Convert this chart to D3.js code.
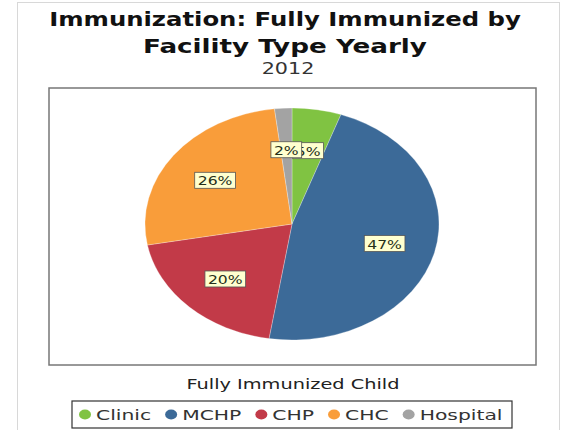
<!DOCTYPE html>
<html><head><meta charset="utf-8">
<script src="https://cdn.jsdelivr.net/npm/d3@7"></script>
<style>body{margin:0;background:#fff}svg{display:block}</style>
</head><body>
<svg id="c" width="565" height="430"></svg>
<script>
const categories = ["Clinic", "MCHP", "CHP", "CHC", "Hospital"];
const values = [5.4, 47.1, 19.6, 26.0, 1.9];
const colors = ["#80c342", "#3c6a98", "#c23a48", "#f99d3a", "#a3a3a3"];
const titleLines = ["Immunization: Fully Immunized by", "Facility Type Yearly"];
const subtitle = "2012";
const plotTitle = "Fully Immunized Child";

const svg = d3.select("#c");
const font = "DejaVu Sans, sans-serif";
const titleStretch = [1.28, 1.38];

// stretch text horizontally by factor k (reference text is wide)
function stretch(sel, k) {
  sel.each(function (d, i) {
    const L = this.getComputedTextLength();
    const kk = typeof k === "function" ? k(d, i) : k;
    d3.select(this).attr("textLength", L * kk).attr("lengthAdjust", "spacingAndGlyphs");
  });
  return sel;
}

// outer frame
svg.append("rect").attr("x", 17.5).attr("y", 2.5).attr("width", 542).attr("height", 440)
  .attr("fill", "none").attr("stroke", "#d8d8d8");

// titles
stretch(svg.selectAll("text.title").data(titleLines).join("text")
  .attr("x", 285).attr("y", (d, i) => 26 + i * 27)
  .attr("text-anchor", "middle").attr("font-family", font)
  .attr("font-weight", "bold").attr("font-size", 19).attr("fill", "#111")
  .text(d => d), (d, i) => titleStretch[i]);
stretch(svg.append("text").attr("x", 288).attr("y", 74).attr("text-anchor", "middle")
  .attr("font-family", font).attr("font-size", 15).attr("fill", "#333").text(subtitle), 1.38);

// plot box
svg.append("rect").attr("x", 49).attr("y", 88).attr("width", 487).attr("height", 277)
  .attr("fill", "#fff").attr("stroke", "#777").attr("stroke-width", 1.5);

// pie
const cx = 292, cy = 225, rx = 147, ry = 116;
const total = d3.sum(values);
const pie = d3.pie().sort(null).value(d => d)(values);
const arc = d3.arc().innerRadius(0).outerRadius(rx);
const g = svg.append("g").attr("transform", `translate(${cx},${cy - 1}) scale(1,${ry / rx})`);
g.selectAll("path").data(pie).join("path")
  .attr("d", arc).attr("fill", (d, i) => colors[i])
  .attr("stroke", "#fff").attr("stroke-width", 0.6).attr("stroke-opacity", 0.5);

// labels
const lf = 0.65;
const lab = svg.append("g");
pie.forEach((d, i) => {
  const a = (d.startAngle + d.endAngle) / 2;
  const x = cx + rx * lf * Math.sin(a);
  const y = cy - ry * lf * Math.cos(a);
  const t = Math.round(values[i] / total * 100) + "%";
  const r = lab.append("rect");
  const tx = lab.append("text").attr("x", x).attr("y", y + 5).attr("text-anchor", "middle")
    .attr("font-family", font).attr("font-size", 13).attr("font-weight", 500)
    .attr("fill", "#26301a").text(t);
  const L = tx.node().getComputedTextLength() * 1.2;
  tx.attr("textLength", L).attr("lengthAdjust", "spacingAndGlyphs");
  const w = L + 6, h = 16;
  r.attr("x", x - w / 2).attr("y", y - h / 2).attr("width", w).attr("height", h)
    .attr("fill", "#ffffcf").attr("stroke", "#555").attr("stroke-width", 0.8);
});

// plot subtitle
stretch(svg.append("text").attr("x", 293).attr("y", 389).attr("text-anchor", "middle")
  .attr("font-family", font).attr("font-size", 14).attr("fill", "#222").text(plotTitle), 1.38);

// legend
const legX = 72, legY = 401, legW = 440, legH = 27;
svg.append("rect").attr("x", legX).attr("y", legY).attr("width", legW).attr("height", legH)
  .attr("fill", "#fff").attr("stroke", "#333").attr("stroke-width", 1.2);
const legG = svg.append("g");
let xpos = legX + 7;
categories.forEach((c, i) => {
  legG.append("ellipse").attr("cx", xpos + 6).attr("cy", legY + 13.5).attr("rx", 6).attr("ry", 5).attr("fill", colors[i]);
  const t = legG.append("text").attr("x", xpos + 17).attr("y", legY + 19)
    .attr("font-family", font).attr("font-size", 14.5).attr("fill", "#333").text(c);
  const L = t.node().getComputedTextLength() * 1.4;
  t.attr("textLength", L).attr("lengthAdjust", "spacingAndGlyphs");
  xpos += 17 + L + 14;
});
</script>
</body></html>
